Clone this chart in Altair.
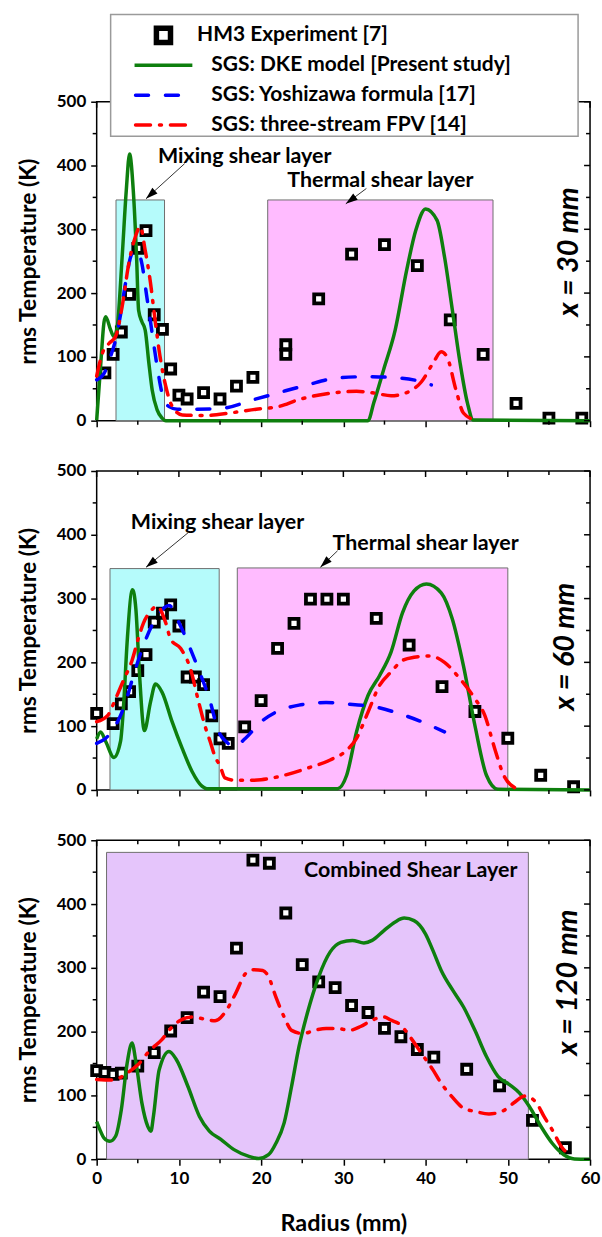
import math
import altair as alt
import pandas as pd

# ---------------- layout constants ----------------
W, H = 495, 320                 # plot area of each panel
R_MAX, T_MAX = 60, 500
FONT = "Lato"
# margin around the stacked panels (left, top, right, bottom)
M_LEFT, M_TOP, M_RIGHT, M_BOTTOM = 96, 98.3, 11, 77.3

X_MAJOR = [0, 10, 20, 30, 40, 50, 60]
X_MINOR = [5, 15, 25, 35, 45, 55]
Y_MAJOR = [0, 100, 200, 300, 400, 500]
Y_MINOR = [50, 150, 250, 350, 450]

LEGEND_LABELS = [
    "HM3 Experiment [7]",
    "SGS: DKE model [Present study]",
    "SGS: Yoshizawa formula [17]",
    "SGS: three-stream FPV [14]",
]

GREEN = "#0e7f0e"
BLUE = "#0000ff"
RED = "#ff0000"
CYAN = "#b5fbfb"
PINK = "#ffbbff"
LILAC = "#e5c5fb"

DASH_BLUE = [13, 17]
DASH_RED = [15, 9, 2, 9]

# ---------------- x = 30 mm ----------------
exp30_r = [1, 2, 3, 4, 5, 6, 7, 8, 9, 10, 11, 13, 15, 17, 19, 23, 23, 27, 31, 35, 39, 43, 47, 51, 55, 59]
exp30_T = [75, 104, 139, 198, 270, 298, 166, 143, 81, 40, 34, 44, 34, 54, 68, 119, 104, 191, 261, 276, 243, 158, 104, 27, 4, 4]

dke30_r = [0, 0.5, 0.9, 1.1, 1.7, 2.1, 2.5, 3.1, 3.6, 4.0, 4.45, 4.85, 5.1, 5.5, 5.9, 6.35, 6.75, 7.35, 7.95,
           8.4, 20, 33.0, 33.7, 34.9, 36.3, 37.7, 38.8, 40.0, 41.4, 42.3, 43.25, 44.2, 45.1, 45.8, 60]
dke30_T = [1, 90, 155, 163, 142, 132, 147, 257, 361, 418, 361, 257, 173, 155, 142, 90, 48, 17, 4,
           0, 0, 0, 28, 80, 142, 236, 298, 332, 314, 257, 174, 90, 27, 1, 0]

yos30_r = [0, 0.9, 1.7, 2.3, 2.9, 3.5, 4.3, 4.9, 5.5, 6.1, 6.75, 7.35, 7.95, 8.8, 9.8, 11.4, 15, 19.1, 21.9,
           25.6, 29.3, 33, 36.7, 39.5, 40.7]
yos30_T = [64, 74, 101, 127, 166, 215, 262, 267, 246, 194, 137, 85, 43, 22, 18, 18, 19, 33, 43,
           56, 67, 69, 67, 61, 56]

fpv30_r = [0, 0.7, 1.5, 2.3, 3.1, 3.9, 4.7, 5.3, 5.9, 6.5, 7.1, 7.7, 8.4, 9.2, 10.4, 13, 16.2, 19.4, 22.1,
           24.6, 28.4, 31.6, 33.9, 35.8, 37.7, 39.5, 40.9, 41.9, 42.6, 43.7, 44.6, 46]
fpv30_T = [70, 106, 121, 132, 179, 246, 288, 304, 267, 220, 158, 101, 54, 22, 9, 8, 12, 18, 22,
           33, 43, 46, 43, 39, 44, 61, 90, 108, 100, 48, 12, 1]

# ---------------- x = 60 mm ----------------
exp60_r = [0, 2, 3, 4, 5, 6, 7, 8, 9, 10, 11, 12, 13, 14, 15, 16, 18, 20, 22, 24, 26, 28, 30, 34, 38, 42, 46, 50, 54, 58]
exp60_T = [120, 104, 135, 154, 187, 212, 263, 277, 290, 257, 177, 177, 165, 116, 80, 73, 99, 140, 222, 261, 299, 299,
           299, 269, 227, 162, 123, 81, 23, 5]

dke60_r = [0, 0.48, 1.1, 2.1, 2.9, 3.3, 3.7, 4.36, 4.77, 5.17, 5.8, 6.55, 7.15, 7.96, 9.17, 10.4, 11.6, 12.8, 13.4,
           29.3, 30.4, 31.6, 33.0, 34.4, 35.8, 37.2, 38.6, 40.1, 41.9, 43.25, 44.6, 46.0, 47.4, 48.8, 60]
dke60_T = [80, 91, 76, 51, 76, 138, 231, 314, 283, 190, 93, 138, 166, 153, 107, 65, 29, 6, 2,
           2, 23, 91, 148, 179, 216, 278, 312, 323, 309, 268, 195, 101, 23, 1, 0]

yos60_r = [0, 1.1, 2.3, 3.4, 4.6, 6.0, 7.4, 8.8, 10.2, 11.4, 12.5, 13.7, 14.85, 15.8, 16.7, 18.1, 20, 21.8, 24.6,
           27.9, 31.1, 33.9, 36.7, 39.5, 42.3]
yos60_T = [73, 81, 101, 133, 185, 237, 273, 289, 257, 221, 185, 143, 91, 75, 68, 81, 107, 122, 133,
           137, 134, 130, 120, 107, 91]

fpv60_r = [0, 1.35, 2.3, 3.2, 4.3, 5.1, 5.7, 6.55, 7.35, 8.4, 9.0, 10.2, 11.4, 12.4, 13.2, 13.8, 14.4, 15.0, 15.6,
           17, 18.4, 20, 22.8, 25.6, 28.4, 30.2, 31.6, 33, 34.4, 35.8, 37.2, 38.6, 40.5, 42.3, 44.2, 46, 47.2,
           48.4, 49.5, 50.9]
fpv60_T = [107, 117, 143, 170, 203, 239, 262, 280, 288, 262, 236, 222, 190, 138, 99, 76, 52, 38, 19,
           15, 15, 16, 23, 34, 47, 60, 81, 122, 164, 185, 203, 208, 210, 200, 174, 143, 117,
           65, 23, 3]

# ---------------- x = 120 mm ----------------
exp120_r = [0, 1, 2, 3, 5, 7, 9, 11, 13, 15, 17, 19, 21, 23, 25, 27, 29, 31, 33, 35, 37, 39, 41, 45, 49, 53, 57]
exp120_T = [139, 136, 133, 135, 146, 167, 201, 222, 262, 255, 331, 469, 464, 386, 305, 278, 269, 241, 230, 205, 192,
            172, 160, 141, 115, 61, 18]

dke120_r = [0, 0.4, 0.9, 1.6, 2.3, 3.0, 3.7, 4.3, 4.8, 5.5, 6.2, 6.6, 6.9, 7.6, 8.8, 9.7, 11.1, 12.5, 13.7, 15.1,
            16.7, 18.6, 19.7, 20.9, 21.8, 22.8, 23.7, 24.6, 25.6, 27, 28.4, 29.7, 31.1, 32.5, 33.5, 34.9, 36.3,
            37.4, 38.6, 40, 40.9, 41.9, 43.3, 44.6, 46, 47.4, 48.8, 50.2, 51.4, 52.6, 54, 55.4, 56.8, 58.1, 60]
dke120_T = [59, 46, 33, 28, 36, 78, 150, 182, 150, 88, 52, 44, 67, 140, 169, 156, 114, 67, 44, 31,
            15, 4, 1, 7, 25, 57, 114, 176, 228, 286, 325, 340, 343, 339, 343, 358, 372,
            378, 374, 353, 327, 296, 265, 239, 202, 161, 130, 117, 104, 83, 52, 25, 7, 0.5, 0]

fpv120_r = [0, 2.0, 3.7, 5, 6.5, 7.9, 9.0, 10.2, 11.6, 13, 14.4, 15.8, 16.9, 18.1, 19, 20.2, 20.9, 21.8, 22.8,
            23.7, 25.1, 26.5, 27.9, 29.3, 30.7, 32.1, 33.5, 34.9, 35.8, 37, 38.1, 39.5, 40.9, 41.9, 43.2, 44.6,
            46, 47.7, 49.3, 50.7, 52.1, 53.5, 54.4, 55.4, 56.5, 57.7]
fpv120_T = [125, 124, 135, 148, 171, 187, 205, 218, 223, 220, 217, 234, 260, 291, 297, 296, 286, 254, 223,
            202, 197, 202, 205, 205, 202, 208, 218, 223, 218, 210, 192, 166, 140, 119, 98, 80,
            75, 71, 75, 88, 99, 88, 67, 46, 20, 5]

# shaded regions: (r from, r to, top temperature, colour)
zones30 = [(2.35, 8.25, 346, CYAN), (20.8, 48.2, 346, PINK)]
zones60 = [(1.62, 14.9, 347, CYAN), (17.1, 50.0, 348, PINK)]
zones120 = [(1.2, 52.5, 481, LILAC)]

# annotation texts: (r, T, text)
notes30 = [(18.0, 413, "Mixing shear layer"), (34.5, 375, "Thermal shear layer")]
notes60 = [(14.7, 418, "Mixing shear layer"), (40.0, 385, "Thermal shear layer")]
notes120 = [(38.2, 452, "Combined Shear Layer")]

# arrows: (r start, T start, r tip, T tip)
arrows30 = [(10.7, 403, 6.0, 348), (32.8, 364, 30.3, 340)]
arrows60 = [(11.1, 403, 6.0, 349), (29.3, 375, 27.2, 349)]

XS = alt.Scale(domain=[0, R_MAX], nice=False, zero=False)
YS = alt.Scale(domain=[0, T_MAX], nice=False, zero=False)
ARROW_HEAD = "M0,0L0.7,2.2L-0.7,2.2Z"


def x_axis(labels):
    return alt.Axis(values=X_MAJOR, tickSize=6, tickWidth=1.5, tickColor="black", domain=False, grid=False,
                    labels=labels, labelFont=FONT, labelFontSize=17, labelFontWeight="bold",
                    labelColor="black", labelPadding=5, labelFlush=False, labelOverlap=False, format="d",
                    title="Radius (mm)" if labels else "", titleFont=FONT, titleFontSize=23.5,
                    titleFontWeight="bold", titleColor="black", titlePadding=26)


def y_axis():
    return alt.Axis(values=Y_MAJOR, tickSize=6, tickWidth=1.5, tickColor="black", domain=False, grid=False,
                    labelFont=FONT, labelFontSize=17, labelFontWeight="bold", labelColor="black",
                    labelPadding=5, labelFlush=False, labelOverlap=False, format="d",
                    title="rms Temperature (K)", titleFont=FONT,
                    titleFontSize=23, titleFontWeight="bold", titleColor="black", titlePadding=16)


def frame_edge(y_px):
    """Invisible full-width rule that fixes the outer margin of the figure."""
    return alt.Chart(pd.DataFrame({"k": [0]})).mark_rule(color="white", opacity=0, strokeWidth=0.01).encode(
        x=alt.value(-M_LEFT), x2=alt.value(W + M_RIGHT), y=alt.value(y_px))


def panel(zones, exp_r, exp_T, lines, notes, arrows, side_text, side_x, side_y, show_labels, legend=False):
    xa, ya = x_axis(show_labels), y_axis()

    def X(field):
        return alt.X(field, scale=XS, axis=xa)

    def Y(field):
        return alt.Y(field, scale=YS, axis=ya)

    zdf = pd.DataFrame({
        "r1": [z[0] for z in zones], "r2": [z[1] for z in zones],
        "t1": [0 for _ in zones], "t2": [z[2] for z in zones], "fill": [z[3] for z in zones]})
    layers = [
        alt.Chart(zdf).mark_rect(stroke="#6e6e6e", strokeWidth=1).encode(
            x=X("r1:Q"), x2="r2:Q", y=Y("t1:Q"), y2="t2:Q", fill=alt.Fill("fill:N", scale=None))
    ]
    layers.append(
        alt.Chart(pd.DataFrame({"r": exp_r, "T": exp_T})).mark_point(
            shape="square", filled=True, fill="white", stroke="black", strokeWidth=3.8, size=82, opacity=1
        ).encode(x=X("r:Q"), y=Y("T:Q")))

    for r, T, color, dash in lines:
        kw = dict(color=color, strokeWidth=3.5, interpolate="monotone", strokeCap="round" if dash else "butt")
        if dash:
            kw["strokeDash"] = dash
        layers.append(alt.Chart(pd.DataFrame({"r": r, "T": T})).mark_line(**kw).encode(
            x=X("r:Q"), y=Y("T:Q")))

    if notes:
        ndf = pd.DataFrame({"r": [n[0] for n in notes], "T": [n[1] for n in notes], "txt": [n[2] for n in notes]})
        layers.append(alt.Chart(ndf).mark_text(font=FONT, fontSize=21.5, fontWeight="bold", color="black",
                                               baseline="middle", align="center").encode(
            x=X("r:Q"), y=Y("T:Q"), text="txt:N"))

    if arrows:
        sx, sy = W / R_MAX, H / T_MAX
        adf = pd.DataFrame({
            "r1": [a[0] for a in arrows], "t1": [a[1] for a in arrows],
            "r2": [a[2] for a in arrows], "t2": [a[3] for a in arrows],
            "ang": [math.degrees(math.atan2((a[2] - a[0]) * sx, (a[3] - a[1]) * sy)) % 360 for a in arrows]})
        layers.append(alt.Chart(adf).mark_rule(color="#333333", strokeWidth=1).encode(
            x=X("r1:Q"), x2="r2:Q", y=Y("t1:Q"), y2="t2:Q"))
        layers.append(alt.Chart(adf).mark_point(shape=ARROW_HEAD, filled=True, color="black", size=120,
                                                opacity=1).encode(
            x=X("r2:Q"), y=Y("t2:Q"), angle=alt.Angle("ang:Q", scale=None)))

    layers.append(alt.Chart(pd.DataFrame({"s": [side_text]})).mark_text(
        font=FONT, fontSize=29, fontWeight="bold", fontStyle="italic", color="black", angle=270,
        align="center", baseline="middle").encode(
        x=alt.value(side_x), y=alt.value(side_y), text="s:N"))

    # minor ticks and the inward ticks on the top and right frame edges
    for vals, a, b in [(X_MINOR, H, H + 4), (X_MAJOR, 0, 6), (X_MINOR, 0, 4)]:
        layers.append(alt.Chart(pd.DataFrame({"v": vals})).mark_rule(color="black", strokeWidth=1.5).encode(
            x=X("v:Q"), y=alt.value(a), y2=alt.value(b)))
    for vals, a, b in [(Y_MINOR, 0, -4), (Y_MAJOR, W, W - 6), (Y_MINOR, W, W - 4)]:
        layers.append(alt.Chart(pd.DataFrame({"v": vals})).mark_rule(color="black", strokeWidth=1.5).encode(
            y=Y("v:Q"), x=alt.value(a), x2=alt.value(b)))

    if legend:
        layers.append(frame_edge(-M_TOP))
        one = pd.DataFrame({"k": [0]})
        rows = [-66.6, -36.6, -6.6, 23.4]
        layers.append(alt.Chart(one).mark_rect(fill="white", stroke="#9a9a9a", strokeWidth=1.5).encode(
            x=alt.value(14), x2=alt.value(483), y=alt.value(-87.6), y2=alt.value(34.7)))
        layers.append(alt.Chart(one).mark_point(shape="square", filled=True, fill="white", stroke="black",
                                                strokeWidth=5.5, size=200, opacity=1).encode(
            x=alt.value(67), y=alt.value(rows[0])))
        layers.append(alt.Chart(one).mark_rule(color=GREEN, strokeWidth=3.5).encode(
            x=alt.value(38), x2=alt.value(96), y=alt.value(rows[1])))
        layers.append(alt.Chart(one).mark_rule(color=BLUE, strokeWidth=3.5, strokeDash=DASH_BLUE,
                                               strokeCap="round").encode(
            x=alt.value(39), x2=alt.value(82), y=alt.value(rows[2])))
        layers.append(alt.Chart(one).mark_rule(color=RED, strokeWidth=3.5, strokeDash=DASH_RED,
                                               strokeCap="round").encode(
            x=alt.value(39), x2=alt.value(91), y=alt.value(rows[3])))
        lx = [100.7, 115, 115, 115]
        for i, lab in enumerate(LEGEND_LABELS):
            layers.append(alt.Chart(pd.DataFrame({"s": [lab]})).mark_text(
                font=FONT, fontSize=21, fontWeight="bold", color="black", align="left",
                baseline="middle").encode(x=alt.value(lx[i]), y=alt.value(rows[i]), text="s:N"))

    if show_labels:
        layers.append(frame_edge(H + M_BOTTOM))

    return alt.layer(*layers).properties(width=W, height=H)


p30 = panel(zones30, exp30_r, exp30_T,
            [(dke30_r, dke30_T, GREEN, None), (yos30_r, yos30_T, BLUE, DASH_BLUE),
             (fpv30_r, fpv30_T, RED, DASH_RED)],
            notes30, arrows30, "x = 30 mm", 474, 150.7, False, legend=True)

p60 = panel(zones60, exp60_r, exp60_T,
            [(dke60_r, dke60_T, GREEN, None), (yos60_r, yos60_T, BLUE, DASH_BLUE),
             (fpv60_r, fpv60_T, RED, DASH_RED)],
            notes60, arrows60, "x = 60 mm", 469.5, 176.3, False)

p120 = panel(zones120, exp120_r, exp120_T,
             [(dke120_r, dke120_T, GREEN, None), (fpv120_r, fpv120_T, RED, DASH_RED)],
             notes120, None, "x = 120 mm", 473, 142.7, True)

chart = alt.vconcat(p30, p60, p120, spacing=50.5, bounds="flush").properties(
    padding={"left": 0, "top": 0, "right": 0, "bottom": 0}
).configure_view(stroke="black", strokeWidth=1.5)

chart.save("out.html", embed_options={"renderer": "svg", "actions": False})
